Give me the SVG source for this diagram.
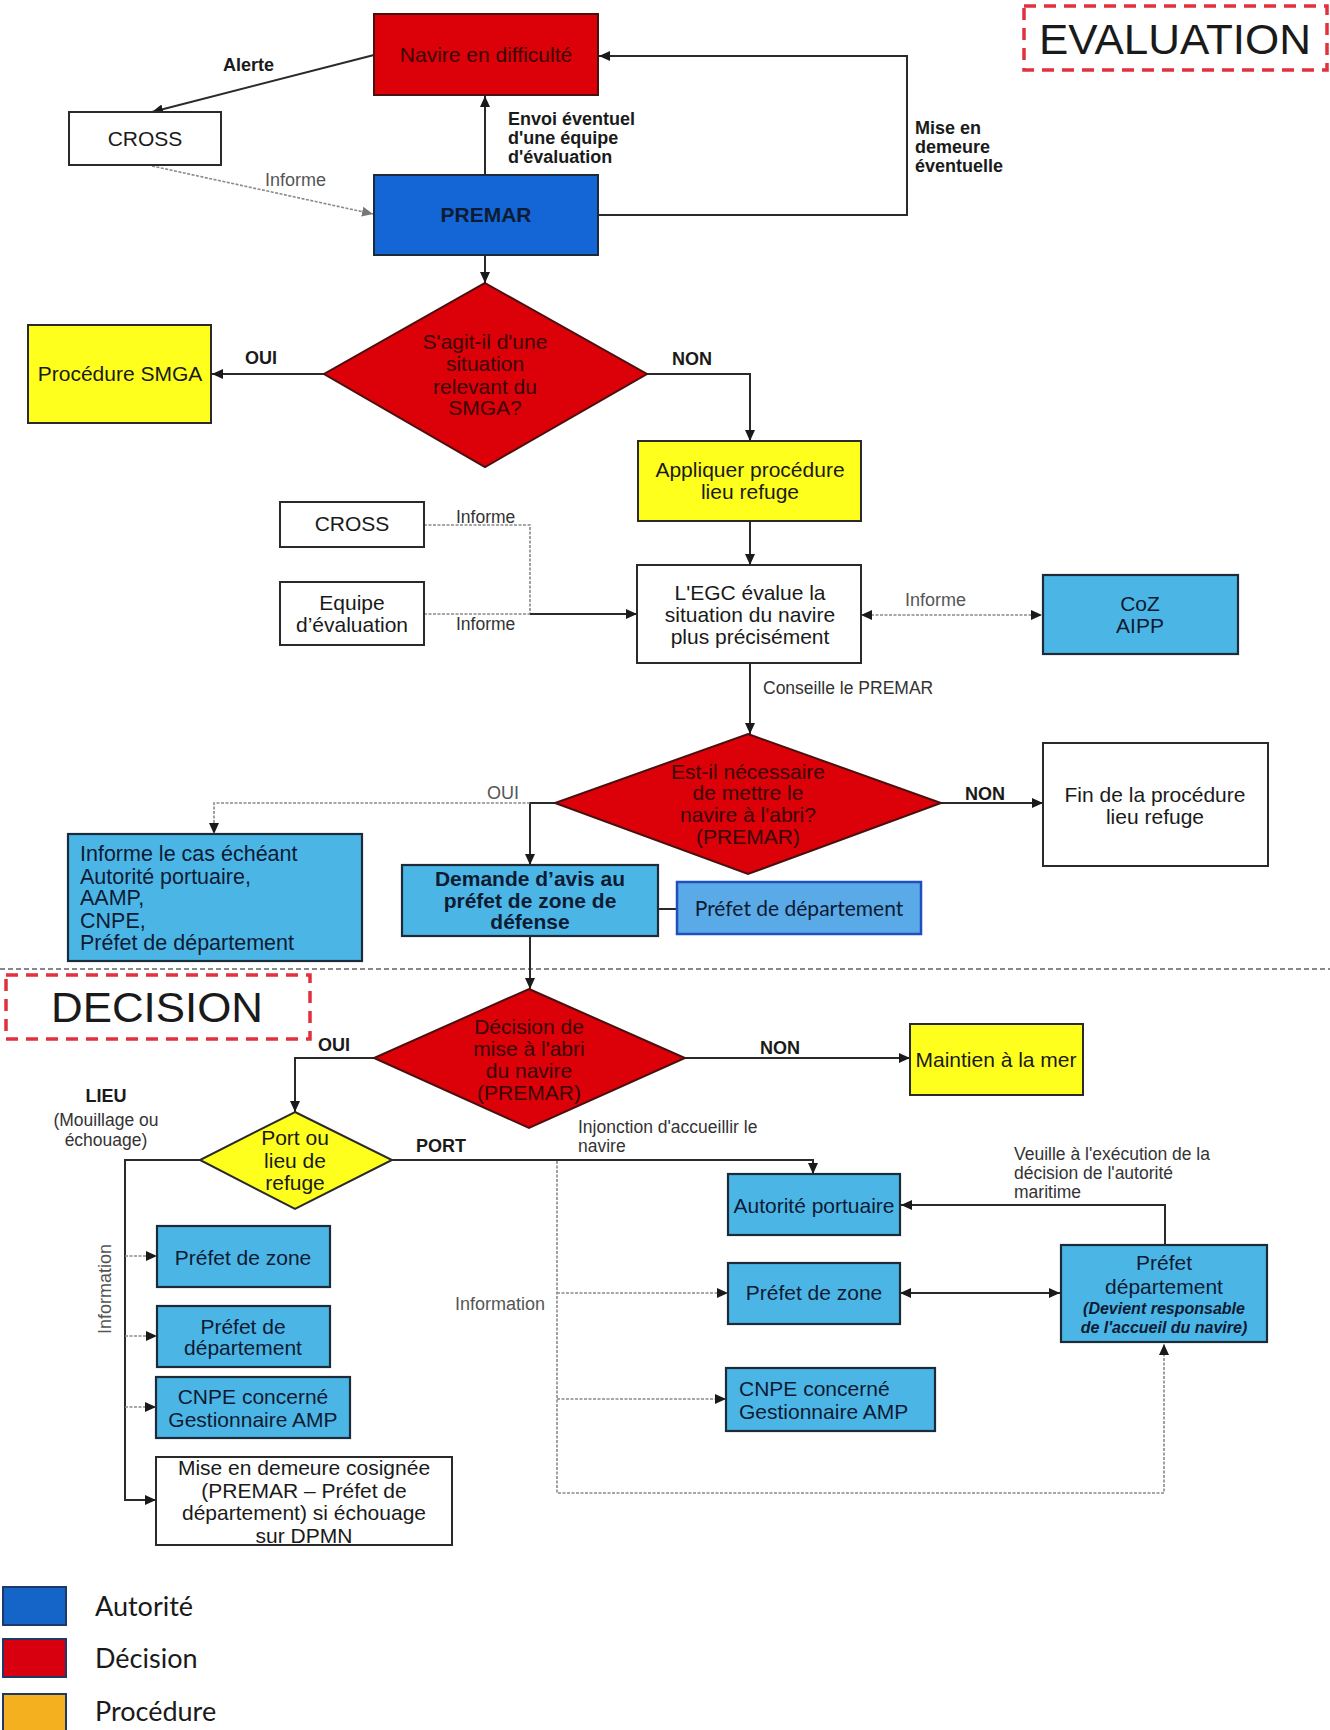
<svg xmlns="http://www.w3.org/2000/svg" width="1330" height="1730" viewBox="0 0 1330 1730">
<style>
text{font-family:"Liberation Sans",Arial,sans-serif;fill:#1a1a1a}
.bx{font-size:21px;text-anchor:middle}
.lb{font-size:18px;font-weight:bold}
.gr{font-size:18px;fill:#555}
.sm{font-size:17.5px;fill:#333}
.dk{fill:#3a0606}
.nav{fill:#0d1b33}
.cal{font-family:Lato,"Liberation Sans",sans-serif}
.red{fill:#dc0008;stroke:#4a1010;stroke-width:2}
.blu{fill:#4bb6e6;stroke:#1d2a38;stroke-width:2.2}
.ylw{fill:#ffff1e;stroke:#2a2a2a;stroke-width:2}
.wht{fill:#fff;stroke:#2a2a2a;stroke-width:2}
.ln{fill:none;stroke:#2a2a2a;stroke-width:2}
.dl{fill:none;stroke:#8a8a8a;stroke-width:1.6;stroke-dasharray:3 1.5}
.frame{fill:none;stroke:#e2303e;stroke-width:3.5;stroke-dasharray:12 8}
</style>
<defs>
<marker id="a" markerUnits="userSpaceOnUse" markerWidth="12" markerHeight="12" refX="11" refY="6" orient="auto"><path d="M0,1 L11,6 L0,11 z" fill="#1a1a1a"/></marker>
<marker id="as" markerUnits="userSpaceOnUse" markerWidth="12" markerHeight="12" refX="1" refY="6" orient="auto"><path d="M11,1 L0,6 L11,11 z" fill="#1a1a1a"/></marker>
<marker id="g" markerUnits="userSpaceOnUse" markerWidth="12" markerHeight="12" refX="11" refY="6" orient="auto"><path d="M0,1 L11,6 L0,11 z" fill="#777"/></marker>
</defs>
<rect width="1330" height="1730" fill="#fff"/>

<g id="frames">
<rect class="frame" x="1024" y="6" width="303" height="64"/>
<text x="1175" y="54" font-size="42" text-anchor="middle" textLength="272" lengthAdjust="spacingAndGlyphs">EVALUATION</text>
<rect class="frame" x="6" y="975" width="304" height="64"/>
<text x="157" y="1022" font-size="42" text-anchor="middle" textLength="212" lengthAdjust="spacingAndGlyphs">DECISION</text>
<line x1="0" y1="969" x2="1330" y2="969" stroke="#888" stroke-width="2" stroke-dasharray="5 3"/>
</g>

<g id="connectors">
<line class="ln" x1="374" y1="55" x2="152" y2="112" marker-end="url(#a)"/>
<line class="ln" x1="485" y1="175" x2="485" y2="96" marker-end="url(#a)"/>
<line class="dl" x1="152" y1="166" x2="373" y2="214" marker-end="url(#g)"/>
<polyline class="ln" points="598,215 907,215 907,56 599,56" marker-end="url(#a)"/>
<line class="ln" x1="485" y1="255" x2="485" y2="283" marker-end="url(#a)"/>
<line class="ln" x1="324" y1="374" x2="212" y2="374" marker-end="url(#a)"/>
<polyline class="ln" points="647,374 750,374 750,441" marker-end="url(#a)"/>
<line class="ln" x1="750" y1="521" x2="750" y2="565" marker-end="url(#a)"/>
<polyline class="dl" points="424,525 530,525 530,614"/>
<line class="dl" x1="424" y1="614" x2="530" y2="614"/>
<line class="ln" x1="530" y1="614" x2="637" y2="614" marker-end="url(#a)"/>
<line class="dl" x1="862" y1="615" x2="1042" y2="615" marker-start="url(#as)" marker-end="url(#a)"/>
<line class="ln" x1="750" y1="663" x2="750" y2="734" marker-end="url(#a)"/>
<line class="ln" x1="941" y1="803" x2="1043" y2="803" marker-end="url(#a)"/>
<polyline class="ln" points="555,803 530,803 530,865" marker-end="url(#a)"/>
<polyline class="dl" points="530,803 214,803 214,834" marker-end="url(#a)"/>
<line class="ln" x1="658" y1="909" x2="677" y2="909"/>
<line class="ln" x1="530" y1="936" x2="530" y2="989" marker-end="url(#a)"/>
<line class="ln" x1="685" y1="1058" x2="910" y2="1058" marker-end="url(#a)"/>
<polyline class="ln" points="374,1058 295,1058 295,1112" marker-end="url(#a)"/>
<polyline class="ln" points="200,1160 125,1160 125,1500 156,1500" marker-end="url(#a)"/>
<line class="dl" x1="125" y1="1256" x2="157" y2="1256" marker-end="url(#a)"/>
<line class="dl" x1="125" y1="1336" x2="157" y2="1336" marker-end="url(#a)"/>
<line class="dl" x1="125" y1="1407" x2="156" y2="1407" marker-end="url(#a)"/>
<polyline class="ln" points="392,1160 813,1160 813,1174" marker-end="url(#a)"/>
<polyline class="ln" points="1165,1245 1165,1205 901,1205" marker-end="url(#a)"/>
<line class="ln" x1="901" y1="1293" x2="1060" y2="1293" marker-start="url(#as)" marker-end="url(#a)"/>
<polyline class="dl" points="557,1161 557,1493 1164,1493 1164,1344" marker-end="url(#a)"/>
<line class="dl" x1="557" y1="1293" x2="728" y2="1293" marker-end="url(#a)"/>
<line class="dl" x1="557" y1="1399" x2="726" y2="1399" marker-end="url(#a)"/>
</g>

<g id="labels">
<text class="lb" x="223" y="71">Alerte</text>
<text class="lb" x="508" y="125">Envoi éventuel</text>
<text class="lb" x="508" y="144">d'une équipe</text>
<text class="lb" x="508" y="163">d'évaluation</text>
<text class="gr" x="265" y="186">Informe</text>
<text class="lb" x="915" y="134">Mise en</text>
<text class="lb" x="915" y="153">demeure</text>
<text class="lb" x="915" y="172">éventuelle</text>
<text class="lb" x="245" y="364">OUI</text>
<text class="lb" x="672" y="365">NON</text>
<text class="sm" x="456" y="523">Informe</text>
<text class="sm" x="456" y="630">Informe</text>
<text class="gr" x="905" y="606">Informe</text>
<text class="sm" x="763" y="694">Conseille le PREMAR</text>
<text class="gr" x="487" y="799">OUI</text>
<text class="lb" x="965" y="800">NON</text>
<text class="lb" x="318" y="1051">OUI</text>
<text class="lb" x="760" y="1054">NON</text>
<text class="lb" x="106" y="1102" text-anchor="middle" font-size="18">LIEU</text>
<text class="sm" x="106" y="1126" text-anchor="middle">(Mouillage ou</text>
<text class="sm" x="106" y="1146" text-anchor="middle">échouage)</text>
<text class="lb" x="416" y="1152" font-size="19">PORT</text>
<text class="sm" x="578" y="1133">Injonction d'accueillir le</text>
<text class="sm" x="578" y="1152">navire</text>
<text class="sm" x="1014" y="1160">Veuille à l'exécution de la</text>
<text class="sm" x="1014" y="1179">décision de l'autorité</text>
<text class="sm" x="1014" y="1198">maritime</text>
<text class="gr" x="455" y="1310">Information</text>
<text class="gr" transform="translate(111,1289) rotate(-90)" text-anchor="middle">Information</text>
</g>

<g id="navire"><rect class="red" x="374" y="14" width="224" height="81"/><text class="bx dk" x="486" y="62">Navire en difficulté</text></g>
<g id="cross1"><rect class="wht" x="69" y="112" width="152" height="53"/><text class="bx" x="145" y="146" fill="#333">CROSS</text></g>
<g id="premar"><rect x="374" y="175" width="224" height="80" fill="#1466d6" stroke="#1d2a38" stroke-width="2"/><text class="bx nav" x="486" y="222" font-weight="bold">PREMAR</text></g>
<g id="smga-q"><polygon class="red" points="485,283 647,374 485,467 324,374"/>
<text class="bx dk" x="485" y="349">S'agit-il d'une</text><text class="bx dk" x="485" y="371">situation</text><text class="bx dk" x="485" y="394">relevant du</text><text class="bx dk" x="485" y="415">SMGA?</text></g>
<g id="smga"><rect class="ylw" x="28" y="325" width="183" height="98"/><text class="bx" x="120" y="381">Procédure SMGA</text></g>
<g id="appliquer"><rect class="ylw" x="638" y="441" width="223" height="80"/><text class="bx" x="750" y="477">Appliquer procédure</text><text class="bx" x="750" y="499">lieu refuge</text></g>
<g id="cross2"><rect class="wht" x="280" y="502" width="144" height="45"/><text class="bx" x="352" y="531" fill="#333">CROSS</text></g>
<g id="equipe"><rect class="wht" x="280" y="582" width="144" height="63"/><text class="bx" x="352" y="610" fill="#333">Equipe</text><text class="bx" x="352" y="632" fill="#333">d’évaluation</text></g>
<g id="egc"><rect class="wht" x="637" y="565" width="224" height="98"/><text class="bx" x="750" y="600" fill="#333">L'EGC évalue la</text><text class="bx" x="750" y="622" fill="#333">situation du navire</text><text class="bx" x="750" y="644" fill="#333">plus précisément</text></g>
<g id="coz"><rect class="blu" x="1043" y="575" width="195" height="79"/><text class="bx nav" x="1140" y="611">CoZ</text><text class="bx nav" x="1140" y="633">AIPP</text></g>
<g id="abri-q"><polygon class="red" points="748,734 941,803 748,874 555,803"/>
<text class="bx dk" x="748" y="779">Est-il nécessaire</text><text class="bx dk" x="748" y="800">de mettre le</text><text class="bx dk" x="748" y="822">navire à l'abri?</text><text class="bx dk" x="748" y="844">(PREMAR)</text></g>
<g id="fin"><rect class="wht" x="1043" y="743" width="225" height="123"/><text class="bx" x="1155" y="802" fill="#333">Fin de la procédure</text><text class="bx" x="1155" y="824" fill="#333">lieu refuge</text></g>
<g id="informe-cas"><rect class="blu" x="68" y="834" width="294" height="127"/>
<text x="80" y="861" font-size="21.5" class="nav">Informe le cas échéant</text><text x="80" y="884" font-size="21.5" class="nav">Autorité portuaire,</text><text x="80" y="905" font-size="21.5" class="nav">AAMP,</text><text x="80" y="928" font-size="21.5" class="nav">CNPE,</text><text x="80" y="950" font-size="21.5" class="nav">Préfet de département</text></g>
<g id="demande"><rect class="blu" x="402" y="865" width="256" height="71"/><text class="bx nav" x="530" y="886" font-weight="bold" font-size="19">Demande d’avis au</text><text class="bx nav" x="530" y="908" font-weight="bold" font-size="19">préfet de zone de</text><text class="bx nav" x="530" y="929" font-weight="bold" font-size="19">défense</text></g>
<g id="prefet-dep-top"><rect x="677" y="882" width="244" height="52" fill="#5aaae8" stroke="#1f4fc0" stroke-width="2.5"/><text class="bx cal nav" x="799" y="916">Préfet de département</text></g>
<g id="decision-q"><polygon class="red" points="529,989 685,1058 529,1128 374,1058"/>
<text class="bx dk" x="529" y="1034">Décision de</text><text class="bx dk" x="529" y="1056">mise à l'abri</text><text class="bx dk" x="529" y="1078">du navire</text><text class="bx dk" x="529" y="1100">(PREMAR)</text></g>
<g id="maintien"><rect class="ylw" x="910" y="1024" width="173" height="71"/><text class="bx" x="996" y="1067">Maintien à la mer</text></g>
<g id="port-q"><polygon class="ylw" points="295,1112 392,1160 295,1209 200,1160"/>
<text class="bx" x="295" y="1145" font-size="19">Port ou</text><text class="bx" x="295" y="1168" font-size="19">lieu de</text><text class="bx" x="295" y="1190" font-size="19">refuge</text></g>
<g id="prefet-zone-l"><rect class="blu" x="157" y="1226" width="173" height="61"/><text class="bx nav" x="243" y="1265">Préfet de zone</text></g>
<g id="prefet-dep-l"><rect class="blu" x="157" y="1306" width="173" height="61"/><text class="bx nav" x="243" y="1334">Préfet de</text><text class="bx nav" x="243" y="1355">département</text></g>
<g id="cnpe-l"><rect class="blu" x="156" y="1377" width="194" height="61"/><text class="bx nav" x="253" y="1404">CNPE concerné</text><text class="bx nav" x="253" y="1427">Gestionnaire AMP</text></g>
<g id="mise-demeure"><rect class="wht" x="156" y="1457" width="296" height="88"/>
<text class="bx" x="304" y="1475" fill="#333">Mise en demeure cosignée</text><text class="bx" x="304" y="1498" fill="#333">(PREMAR – Préfet de</text><text class="bx" x="304" y="1520" fill="#333">département) si échouage</text><text class="bx" x="304" y="1543" fill="#333">sur DPMN</text></g>
<g id="autorite-portuaire"><rect class="blu" x="728" y="1174" width="172" height="61"/><text class="bx nav" x="814" y="1213">Autorité portuaire</text></g>
<g id="prefet-zone-r"><rect class="blu" x="728" y="1263" width="172" height="61"/><text class="bx nav" x="814" y="1300">Préfet de zone</text></g>
<g id="prefet-dep-r"><rect class="blu" x="1061" y="1245" width="206" height="97"/>
<text class="bx nav" x="1164" y="1270">Préfet</text><text class="bx nav" x="1164" y="1294">département</text>
<text class="nav" x="1164" y="1314" font-size="16" font-weight="bold" font-style="italic" text-anchor="middle">(Devient responsable</text><text class="nav" x="1164" y="1333" font-size="16" font-weight="bold" font-style="italic" text-anchor="middle">de l'accueil du navire)</text></g>
<g id="cnpe-r"><rect class="blu" x="726" y="1368" width="209" height="63"/><text class="nav" x="739" y="1396" font-size="21">CNPE concerné</text><text class="nav" x="739" y="1419" font-size="21">Gestionnaire AMP</text></g>

<g id="legend">
<rect x="3" y="1587" width="63" height="38" fill="#1565c8" stroke="#1d3a66" stroke-width="2"/>
<text class="cal" x="95" y="1616" font-size="27">Autorité</text>
<rect x="3" y="1639" width="63" height="38" fill="#d8000f" stroke="#1d3a66" stroke-width="2"/>
<text class="cal" x="95" y="1668" font-size="27">Décision</text>
<rect x="3" y="1694" width="63" height="38" fill="#f5b020" stroke="#1d3a66" stroke-width="2"/>
<text class="cal" x="95" y="1721" font-size="27">Procédure</text>
</g>
</svg>
